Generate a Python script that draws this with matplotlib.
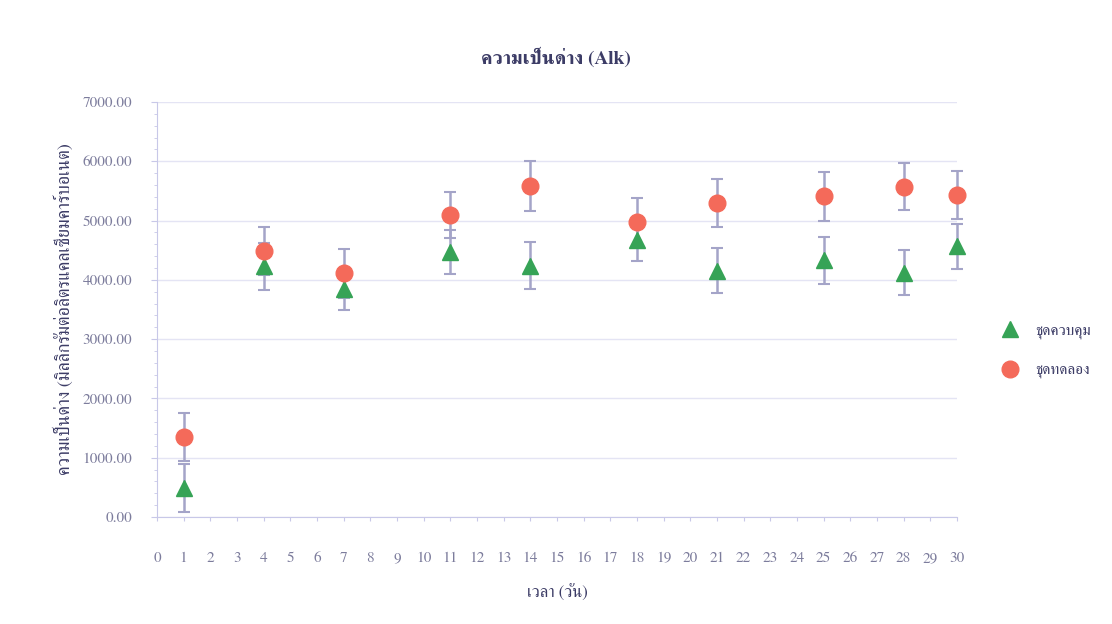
import matplotlib
matplotlib.use("Agg")
import matplotlib.pyplot as plt
from matplotlib import font_manager
from matplotlib.ticker import MultipleLocator, FuncFormatter

days = [1, 4, 7, 11, 14, 18, 21, 25, 28, 30]
control = [490, 4230, 3840, 4470, 4240, 4670, 4150, 4330, 4120, 4570]
control_err = [400, 400, 350, 370, 400, 350, 380, 400, 380, 380]
treatment = [1350, 4490, 4110, 5090, 5580, 4970, 5300, 5410, 5570, 5430]
treatment_err = [400, 400, 410, 390, 420, 410, 400, 410, 400, 400]

title = "ความเป็นด่าง (Alk)"
ylabel = "ความเป็นด่าง (มิลลิกรัมต่อลิตรแคลเซียมคาร์บอเนต)"
xlabel = "เวลา (วัน)"
labels = ["ชุดควบคุม", "ชุดทดลอง"]

# find a font covering Thai
thai_font = None
from matplotlib import ft2font
for f in font_manager.fontManager.ttflist:
    try:
        ft = ft2font.FT2Font(f.fname)
        cm = ft.get_charmap()
        if 0x0E01 in cm and 0x0E27 in cm:
            thai_font = f.name
            if "Serif" in f.name:
                break
    except Exception:
        pass
fams = ([thai_font] if thai_font else []) + ["Liberation Serif", "DejaVu Serif"]
plt.rcParams["font.family"] = fams

navy = "#3c3c66"
grey = "#7c7c9c"
fig = plt.figure(figsize=(11.12, 6.24), dpi=100)
ax = fig.add_axes([157/1112, (624-517)/624, 800/1112, 415/624])

errc = "#a4a4c8"
ax.errorbar(days, control, yerr=control_err, fmt="none", ecolor=errc, elinewidth=1.8, capsize=4, capthick=1.5, clip_on=False, zorder=2)
ax.errorbar(days, treatment, yerr=treatment_err, fmt="none", ecolor=errc, elinewidth=1.8, capsize=4, capthick=1.5, clip_on=False, zorder=2)
ax.plot(days, control, linestyle="none", marker="^", markersize=12, color="#36a356", label=labels[0], clip_on=False, zorder=3)
ax.plot(days, treatment, linestyle="none", marker="o", markersize=12, color="#f46a5a", label=labels[1], clip_on=False, zorder=4)

ax.set_xlim(0, 30)
ax.set_ylim(0, 7000)
ax.xaxis.set_major_locator(MultipleLocator(1))
ax.yaxis.set_major_locator(MultipleLocator(1000))
ax.yaxis.set_minor_locator(MultipleLocator(200))
ax.yaxis.set_major_formatter(FuncFormatter(lambda v, p: f"{v:.2f}"))
ax.grid(axis="y", which="major", color="#e4e4f4", linewidth=1)
ax.set_axisbelow(True)
for s in ["top", "right"]:
    ax.spines[s].set_visible(False)
for s in ["left", "bottom"]:
    ax.spines[s].set_color("#c8c8e8")
ax.tick_params(axis="both", which="both", colors="#c8c8e8", labelcolor=grey, labelsize=11)
ax.tick_params(axis="x", length=3, pad=22)
ax.tick_params(axis="y", which="major", length=4, pad=14)
ax.tick_params(axis="y", which="minor", length=2)

fig.text(0.5, 0.907, title, ha="center", va="center", fontsize=14, fontweight="bold", color=navy)
ax.set_xlabel(xlabel, fontsize=12, color=navy, labelpad=14)
ax.set_ylabel(ylabel, fontsize=13, color=navy, labelpad=6)

ax.legend(loc="center left", bbox_to_anchor=(1.04, 0.40), frameon=False, fontsize=11,
          labelcolor=navy, handletextpad=0.6, labelspacing=1.6, borderaxespad=0)

fig.savefig("out.png", dpi=100, facecolor="white")
